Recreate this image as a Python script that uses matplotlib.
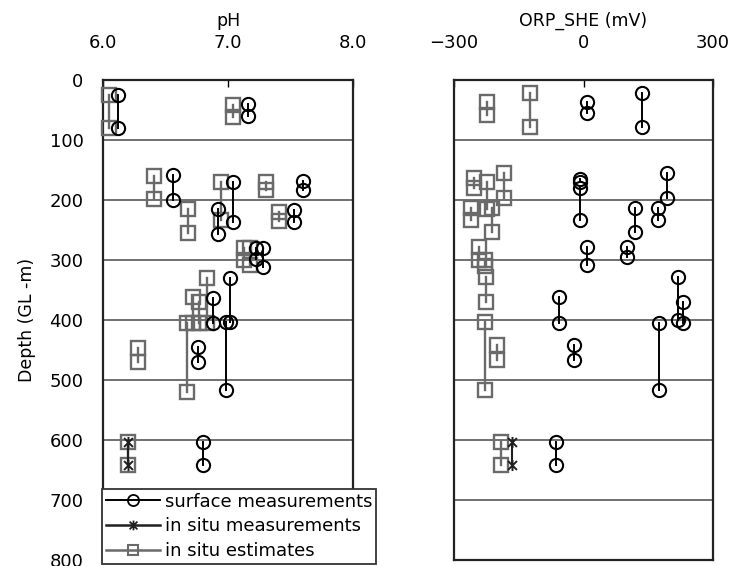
import matplotlib
matplotlib.use("Agg")
import matplotlib.pyplot as plt
from matplotlib.path import Path
from matplotlib.lines import Line2D

# ---------------- data (each record: value, top depth, bottom depth) -------------
ph_surf_val = [6.12, 7.16, 6.56, 7.04, 6.92, 7.60, 7.53, 7.22, 7.28, 7.02, 6.88, 6.98, 6.76, 6.80]
ph_surf_top = [25, 40, 158, 170, 215, 168, 217, 280, 280, 330, 363, 403, 445, 603]
ph_surf_bot = [80, 60, 200, 237, 257, 183, 237, 298, 312, 403, 405, 517, 470, 642]

ph_est_val = [6.05, 7.04, 6.41, 6.94, 6.68, 7.30, 7.41, 7.13, 7.18, 6.83, 6.72, 6.77, 6.67, 6.28, 6.20]
ph_est_top = [25, 42, 160, 170, 215, 170, 220, 280, 280, 330, 362, 370, 405, 447, 603]
ph_est_bot = [80, 62, 198, 233, 255, 183, 235, 300, 308, 405, 405, 405, 520, 470, 642]

ph_insitu_val = [6.20]
ph_insitu_top = [603]
ph_insitu_bot = [642]

orp_surf_val = [7, 135, -9, -9, 193, 172, 119, 9, 100, 219, 230, -56, 174, -23, -63]
orp_surf_top = [37, 22, 165, 180, 155, 213, 213, 278, 278, 328, 370, 362, 405, 442, 603]
orp_surf_bot = [55, 78, 170, 233, 197, 233, 253, 308, 295, 400, 405, 405, 517, 467, 642]

orp_est_val = [-223, -123, -253, -223, -184, -260, -212, -242, -229, -226, -228, -200, -191]
orp_est_top = [37, 22, 163, 170, 155, 213, 213, 278, 300, 328, 403, 442, 603]
orp_est_bot = [58, 78, 180, 215, 197, 233, 253, 300, 310, 370, 517, 467, 642]

orp_insitu_val = [-165]
orp_insitu_top = [603]
orp_insitu_bot = [642]

depth_ticks = [0, 100, 200, 300, 400, 500, 600, 700, 800]
ph_ticks = [6.0, 7.0, 8.0]
ph_ticklabels = ["6.0", "7.0", "8.0"]
orp_ticks = [-300, 0, 300]
orp_ticklabels = ["\u2212300", "0", "300"]

# ---------------- style ----------------
FONT = "DejaVu Sans"
plt.rcParams["font.family"] = [FONT]

asterisk = Path([(0, -1), (0, 1), (-0.8, -0.8), (0.8, 0.8), (-0.8, 0.8), (0.8, -0.8)],
                [Path.MOVETO, Path.LINETO, Path.MOVETO, Path.LINETO, Path.MOVETO, Path.LINETO])

surf_style = dict(color="black", lw=1.4, marker="o", ms=9.5, mfc="none", mec="black", mew=1.5, zorder=4)
est_style = dict(color="#6a6a6a", lw=1.7, marker="s", ms=10.5, mfc="none", mec="#6a6a6a", mew=1.7, zorder=3)
insitu_style = dict(color="#202020", lw=1.5, marker=asterisk, ms=8, mfc="none", mec="#202020", mew=1.4, zorder=5)

W, H = 729, 566
fig = plt.figure(figsize=(W / 100, H / 100), dpi=100)

def frac_box(x0, x1, ytop, ybot):
    return [x0 / W, 1 - ybot / H, (x1 - x0) / W, (ybot - ytop) / H]

ax1 = fig.add_axes(frac_box(103, 353, 80, 560))
ax2 = fig.add_axes(frac_box(454, 713, 80, 560))

def draw(ax, vals, tops, bots, style):
    for v, t, b in zip(vals, tops, bots):
        ax.plot([v, v], [t, b], **style)

def setup(ax, xlim, xticks, xticklabels, xlabel, show_y):
    ax.set_xlim(*xlim)
    ax.set_ylim(800, 0)
    ax.xaxis.tick_top()
    ax.xaxis.set_label_position("top")
    ax.set_xticks(xticks)
    ax.set_xticklabels(xticklabels, fontsize=13)
    ax.tick_params(axis="x", direction="in", length=5, width=1, pad=20, top=True, bottom=False)
    ax.set_xlabel(xlabel, fontsize=12.5, labelpad=6)
    ax.set_yticks(depth_ticks)
    for d in depth_ticks[1:-1]:
        ax.axhline(d, color="#707070", lw=1.4, zorder=1)
    if show_y:
        ax.set_yticklabels([str(d) for d in depth_ticks], fontsize=13)
        ax.tick_params(axis="y", length=0, pad=14)
    else:
        ax.set_yticklabels([])
        ax.tick_params(axis="y", length=0)
    for s in ax.spines.values():
        s.set_linewidth(1.6)
        s.set_color("#222222")

setup(ax1, (6.0, 8.0), ph_ticks, ph_ticklabels, "pH", True)
setup(ax2, (-300, 300), orp_ticks, orp_ticklabels, "ORP_SHE (mV)", False)
ax1.set_ylabel("Depth (GL -m)", fontsize=12.5, labelpad=10)

draw(ax1, ph_est_val, ph_est_top, ph_est_bot, est_style)
draw(ax1, ph_surf_val, ph_surf_top, ph_surf_bot, surf_style)
draw(ax1, ph_insitu_val, ph_insitu_top, ph_insitu_bot, insitu_style)

draw(ax2, orp_est_val, orp_est_top, orp_est_bot, est_style)
draw(ax2, orp_surf_val, orp_surf_top, orp_surf_bot, surf_style)
draw(ax2, orp_insitu_val, orp_insitu_top, orp_insitu_bot, insitu_style)

for ax in (ax1, ax2):
    for l in ax.lines:
        l.set_clip_on(False)

handles = [
    Line2D([], [], color="black", lw=1.4, marker="o", ms=8, mfc="none", mec="black", mew=1.3),
    Line2D([], [], color="#202020", lw=1.8, marker=asterisk, ms=7, mec="#202020", mew=1.3),
    Line2D([], [], color="#6a6a6a", lw=1.8, marker="s", ms=7.5, mfc="none", mec="#6a6a6a", mew=1.5),
]
labels = ["surface measurements", "in situ measurements", "in situ estimates"]
leg = fig.legend(handles, labels, loc="upper left", bbox_to_anchor=(102 / W, 1 - 489 / H),
                 fontsize=13, frameon=True, fancybox=False, framealpha=1, edgecolor="#333333",
                 handlelength=3.0, handletextpad=0.3, borderpad=0.2, labelspacing=0.38,
                 borderaxespad=0)
leg.get_frame().set_linewidth(1.3)
leg.set_zorder(10)

fig.savefig("out.png", dpi=100)
